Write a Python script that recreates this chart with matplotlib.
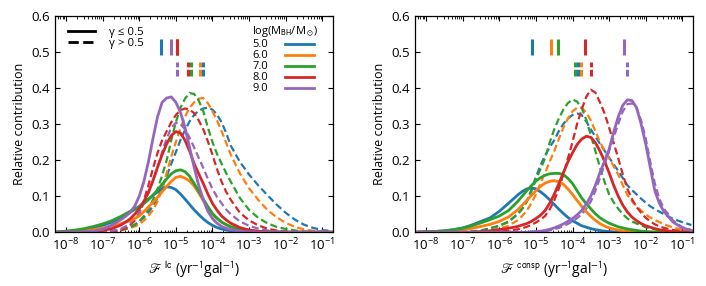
import numpy as np
import matplotlib
matplotlib.use('Agg')
import matplotlib.pyplot as plt
from matplotlib.lines import Line2D
from matplotlib.ticker import LogLocator, FormatStrFormatter, MultipleLocator, NullFormatter

plt.rcParams['font.family'] = ['Open Sans', 'DejaVu Sans']
plt.rcParams['mathtext.fontset'] = 'stixsans'

masses = ['5.0', '6.0', '7.0', '8.0', '9.0']
colors = ['#1f77b4', '#ff7f0e', '#2ca02c', '#d62728', '#9467bd']

# sample positions (log10 F), finer around the peaks
lc_logF = [-8.25, -8.0, -7.75, -7.5, -7.25, -7.0, -6.75,
           -6.5, -6.375, -6.25, -6.125, -6.0, -5.875, -5.75, -5.625, -5.5, -5.375, -5.25,
           -5.125, -5.0, -4.875, -4.75, -4.625, -4.5, -4.375, -4.25, -4.125, -4.0, -3.875,
           -3.75, -3.625, -3.5,
           -3.25, -3.0, -2.75, -2.5, -2.25, -2.0, -1.75, -1.5, -1.25, -1.0, -0.75]

# ---- loss cone panel, gamma <= 0.5
lc_s_5 = [0, .002, .004, .007, .012, .019, .028,
          .04, .047, .055, .063, .072, .082, .092, .102, .112, .121, .126, .124, .118, .106, .092,
          .077, .062, .049, .037, .027, .019, .013, .009, .006, .004,
          .001, 0, 0, 0, 0, 0, 0, 0, 0, 0, 0]
lc_s_6 = [0, .001, .002, .004, .007, .012, .017,
          .024, .028, .032, .038, .045, .057, .07, .083, .097, .112, .127, .141, .152, .155, .15,
          .142, .128, .109, .088, .068, .05, .038, .028, .021, .015,
          .008, .004, .002, .001, 0, 0, 0, 0, 0, 0, 0]
lc_s_7 = [.001, .003, .006, .01, .016, .023, .032,
          .044, .051, .058, .064, .07, .079, .09, .103, .117, .133, .148, .162, .17, .173, .168,
          .155, .135, .114, .092, .071, .052, .039, .028, .021, .015,
          .008, .004, .002, .001, 0, 0, 0, 0, 0, 0, 0]
lc_s_8 = [0, 0, 0, 0, .002, .005, .01,
          .02, .028, .037, .05, .065, .085, .11, .143, .18, .215, .245, .268, .279, .275, .255,
          .225, .19, .162, .135, .106, .08, .061, .045, .034, .025,
          .013, .006, .003, .001, 0, 0, 0, 0, 0, 0, 0]
lc_s_9 = [0, 0, 0, .001, .003, .008, .02,
          .035, .044, .055, .072, .1, .14, .195, .26, .32, .36, .372, .375, .36, .333, .29,
          .235, .18, .13, .09, .058, .038, .025, .016, .011, .007,
          .003, .001, 0, 0, 0, 0, 0, 0, 0, 0, 0]
# ---- loss cone panel, gamma > 0.5
lc_d_5 = [0, 0, 0, 0, 0, .001, .003,
          .007, .01, .015, .021, .03, .041, .055, .073, .095, .123, .155, .19, .222, .255, .283,
          .307, .325, .337, .343, .345, .34, .326, .305, .275, .24,
          .195, .16, .13, .103, .077, .054, .035, .021, .012, .006, .003]
lc_d_6 = [0, 0, 0, 0, 0, .001, .003,
          .007, .009, .012, .016, .022, .032, .045, .062, .085, .12, .165, .21, .25, .288, .32,
          .345, .36, .37, .372, .358, .335, .31, .28, .248, .215,
          .163, .122, .09, .062, .042, .026, .015, .008, .004, .002, .001]
lc_d_7 = [0, 0, 0, 0, 0, .001, .003,
          .006, .009, .013, .02, .03, .045, .065, .09, .12, .157, .2, .255, .305, .345, .37,
          .386, .383, .365, .335, .29, .25, .217, .19, .164, .14,
          .095, .062, .04, .025, .015, .009, .005, .002, 0, 0, 0]
lc_d_8 = [0, 0, 0, 0, 0, 0, 0,
          .005, .011, .02, .032, .05, .088, .13, .177, .22, .255, .28, .305, .325, .338, .343,
          .34, .33, .31, .285, .252, .215, .175, .14, .112, .09,
          .054, .033, .019, .01, .005, .002, 0, 0, 0, 0, 0]
lc_d_9 = [0, 0, 0, 0, 0, 0, .003,
          .01, .016, .025, .038, .055, .08, .11, .143, .18, .222, .26, .29, .303, .3, .285,
          .262, .235, .206, .178, .148, .12, .098, .08, .063, .05,
          .03, .018, .01, .005, .002, 0, 0, 0, 0, 0, 0]

# sample positions for the right panel
cs_logF = [-8.25, -8.0, -7.75, -7.5, -7.25, -7.0, -6.75, -6.5, -6.25, -6.0, -5.75,
           -5.5, -5.375, -5.25, -5.125, -5.0, -4.875, -4.75, -4.625, -4.5, -4.375, -4.25,
           -4.125, -4.0, -3.875, -3.75, -3.625, -3.5, -3.375, -3.25, -3.125, -3.0, -2.875,
           -2.75, -2.625, -2.5, -2.375, -2.25, -2.125, -2.0, -1.875, -1.75, -1.625, -1.5,
           -1.25, -1.0, -0.75]

# ---- consumption panel, gamma <= 0.5
cs_s_5 = [0, .001, .002, .004, .007, .012, .02, .03, .04, .058, .08,
          .103, .113, .12, .123, .12, .112, .102, .09, .077, .064, .052, .041, .032, .025, .018,
          .014, .01, .007, .005, .003, .002, .001, .001, 0, 0, 0, 0, 0, 0, 0, 0, 0, 0,
          0, 0, 0]
cs_s_6 = [0, 0, 0, .001, .003, .006, .011, .016, .022, .03, .042,
          .062, .075, .088, .102, .115, .127, .136, .141, .143, .14, .133, .12, .105, .088, .072,
          .057, .044, .033, .024, .017, .012, .009, .006, .004, .003, .002, .001, 0, 0, 0, 0,
          0, 0,
          0, 0, 0]
cs_s_7 = [0, .001, .002, .004, .007, .011, .018, .026, .035, .045, .06,
          .085, .1, .115, .129, .142, .151, .158, .162, .163, .163, .16, .149, .135, .115, .095,
          .079, .065, .051, .04, .032, .025, .02, .015, .012, .009, .007, .005, .003, .002, .001,
          0, 0, 0,
          0, 0, 0]
cs_s_8 = [0, 0, 0, 0, 0, 0, 0, .002, .004, .007, .011,
          .016, .02, .024, .03, .038, .047, .06, .08, .105, .134, .165, .195, .22, .243, .258,
          .266, .263, .248, .225, .197, .165, .13, .1, .075, .056, .042, .032, .024, .018, .014,
          .01, .007, .005,
          .002, 0, 0]
cs_s_9 = [0, 0, 0, 0, 0, 0, 0, 0, 0, 0, 0,
          0, 0, 0, .001, .002, .003, .005, .008, .012, .017, .023, .03, .038, .048, .06,
          .078, .1, .13, .165, .197, .23, .277, .32, .352, .367, .365, .345, .3, .245, .18,
          .115, .08, .057,
          .028, .012, .005]
# ---- consumption panel, gamma > 0.5
cs_d_5 = [0, 0, 0, 0, 0, .001, .002, .005, .011, .018, .03,
          .05, .065, .085, .117, .153, .185, .213, .235, .255, .28, .3, .315, .325, .329, .325,
          .307, .285, .265, .245, .226, .207, .188, .17, .15, .13, .117, .105, .093, .082, .072,
          .064, .057, .05,
          .037, .028, .02]
cs_d_6 = [0, 0, 0, 0, 0, 0, 0, .002, .005, .01, .018,
          .033, .045, .06, .08, .105, .135, .165, .195, .225, .258, .29, .315, .335, .345, .345,
          .332, .31, .28, .25, .227, .205, .183, .16, .13, .103, .086, .072, .06, .049, .041,
          .034, .028, .022,
          .013, .007, .004]
cs_d_7 = [0, 0, 0, 0, 0, .001, .002, .004, .01, .018, .028,
          .05, .065, .085, .113, .145, .175, .205, .248, .285, .315, .34, .358, .368, .362, .345,
          .312, .27, .225, .18, .14, .105, .083, .065, .05, .038, .03, .024, .019, .014, .011,
          .008, .006, .004,
          .002, 0, 0]
cs_d_8 = [0, 0, 0, 0, 0, 0, 0, 0, 0, .002, .004,
          .008, .011, .015, .02, .027, .035, .045, .063, .088, .12, .16, .205, .25, .3, .34,
          .375, .395, .387, .36, .33, .29, .248, .205, .16, .12, .092, .07, .054, .04, .03,
          .022, .016, .012,
          .006, .003, 0]
cs_d_9 = [0, 0, 0, 0, 0, 0, 0, 0, 0, 0, 0,
          0, 0, 0, 0, .001, .002, .003, .005, .008, .012, .017, .023, .03, .039, .05,
          .065, .085, .115, .15, .187, .225, .263, .3, .335, .355, .357, .345, .31, .26, .195,
          .135, .092, .065,
          .032, .014, .006]

# median markers (log10 F)
lc_s_med = [-5.41, -4.97, -4.96, -4.96, -5.14]
lc_d_med = [-4.25, -4.34, -4.59, -4.68, -4.96]
cs_s_med = [-5.12, -4.58, -4.39, -3.67, -2.60]
cs_d_med = [-3.86, -3.77, -3.94, -3.49, -2.51]

panels = [
    (lc_logF, [lc_s_5, lc_s_6, lc_s_7, lc_s_8, lc_s_9], [lc_d_5, lc_d_6, lc_d_7, lc_d_8, lc_d_9],
     lc_s_med, lc_d_med, r'$\mathscr{F}^{\,\mathrm{lc}}$' + ' (yr$^{-1}$gal$^{-1}$)'),
    (cs_logF, [cs_s_5, cs_s_6, cs_s_7, cs_s_8, cs_s_9], [cs_d_5, cs_d_6, cs_d_7, cs_d_8, cs_d_9],
     cs_s_med, cs_d_med, r'$\mathscr{F}^{\,\mathrm{consp}}$' + ' (yr$^{-1}$gal$^{-1}$)'),
]

fig = plt.figure(figsize=(7.06, 2.86), dpi=100)
axes = [fig.add_axes([0.078, 0.188, 0.394, 0.757]),
        fig.add_axes([0.588, 0.188, 0.394, 0.757])]

dash = (0, (3.2, 1.6))

for ax, (logF, solid, dashed, smed, dmed, xlabel) in zip(axes, panels):
    x = 10.0 ** np.array(logF)
    for i in range(5):
        assert len(solid[i]) == len(logF) and len(dashed[i]) == len(logF)
        ax.plot(x, dashed[i], color=colors[i], lw=1.6, ls=dash)
    for i in range(5):
        ax.plot(x, solid[i], color=colors[i], lw=2.0, ls='-', solid_joinstyle='round')
    for i in range(5):
        ax.plot([10 ** smed[i]] * 2, [0.49, 0.535], color=colors[i], lw=2.2,
                solid_capstyle='butt')
        ax.plot([10 ** dmed[i]] * 2, [0.432, 0.471], color=colors[i], lw=2.2,
                ls=(0, (2.2, 0.8)), dash_capstyle='butt')

    ax.set_xscale('log')
    ax.set_xlim(5e-9, 2e-1)
    ax.set_ylim(0, 0.6)
    ax.set_xticks([10.0 ** k for k in range(-8, 0)])
    ax.xaxis.set_minor_locator(LogLocator(base=10, subs=np.arange(2, 10), numticks=20))
    ax.xaxis.set_minor_formatter(NullFormatter())
    ax.yaxis.set_major_locator(MultipleLocator(0.1))
    ax.yaxis.set_major_formatter(FormatStrFormatter('%.1f'))
    ax.tick_params(which='both', direction='in', top=True, right=True, labelsize=9.5)
    ax.tick_params(which='major', length=3.5, width=0.8, pad=3.5)
    ax.tick_params(which='minor', length=1.8, width=0.6)
    for sp in ax.spines.values():
        sp.set_linewidth(0.9)
    ax.set_ylabel('Relative contribution', fontsize=9, labelpad=4)
    ax.set_xlabel(xlabel, fontsize=10, labelpad=4)

ax = axes[0]
style_handles = [Line2D([], [], color='k', lw=2, ls='-'),
                 Line2D([], [], color='k', lw=2, ls='--')]
leg1 = ax.legend(style_handles, ['γ ≤ 0.5', 'γ > 0.5'], loc='upper left',
                 bbox_to_anchor=(0.047, 0.95), frameon=False, fontsize=8.2,
                 handlelength=2.4, labelspacing=0.0, handletextpad=1.15,
                 borderpad=0, borderaxespad=0)
ax.add_artist(leg1)
mass_handles = [Line2D([], [], color=c, lw=2) for c in colors]
leg2 = ax.legend(mass_handles, masses, loc='upper left', bbox_to_anchor=(0.709, 0.96),
                 frameon=False, fontsize=8, markerfirst=False, handlelength=2.6,
                 labelspacing=0.0, handletextpad=1.5, borderpad=0, borderaxespad=0,
                 title=r'log(M$_{\rm BH}$/M$_\odot$)', title_fontsize=8,
                 alignment='left')

fig.savefig('out.png', dpi=100)
